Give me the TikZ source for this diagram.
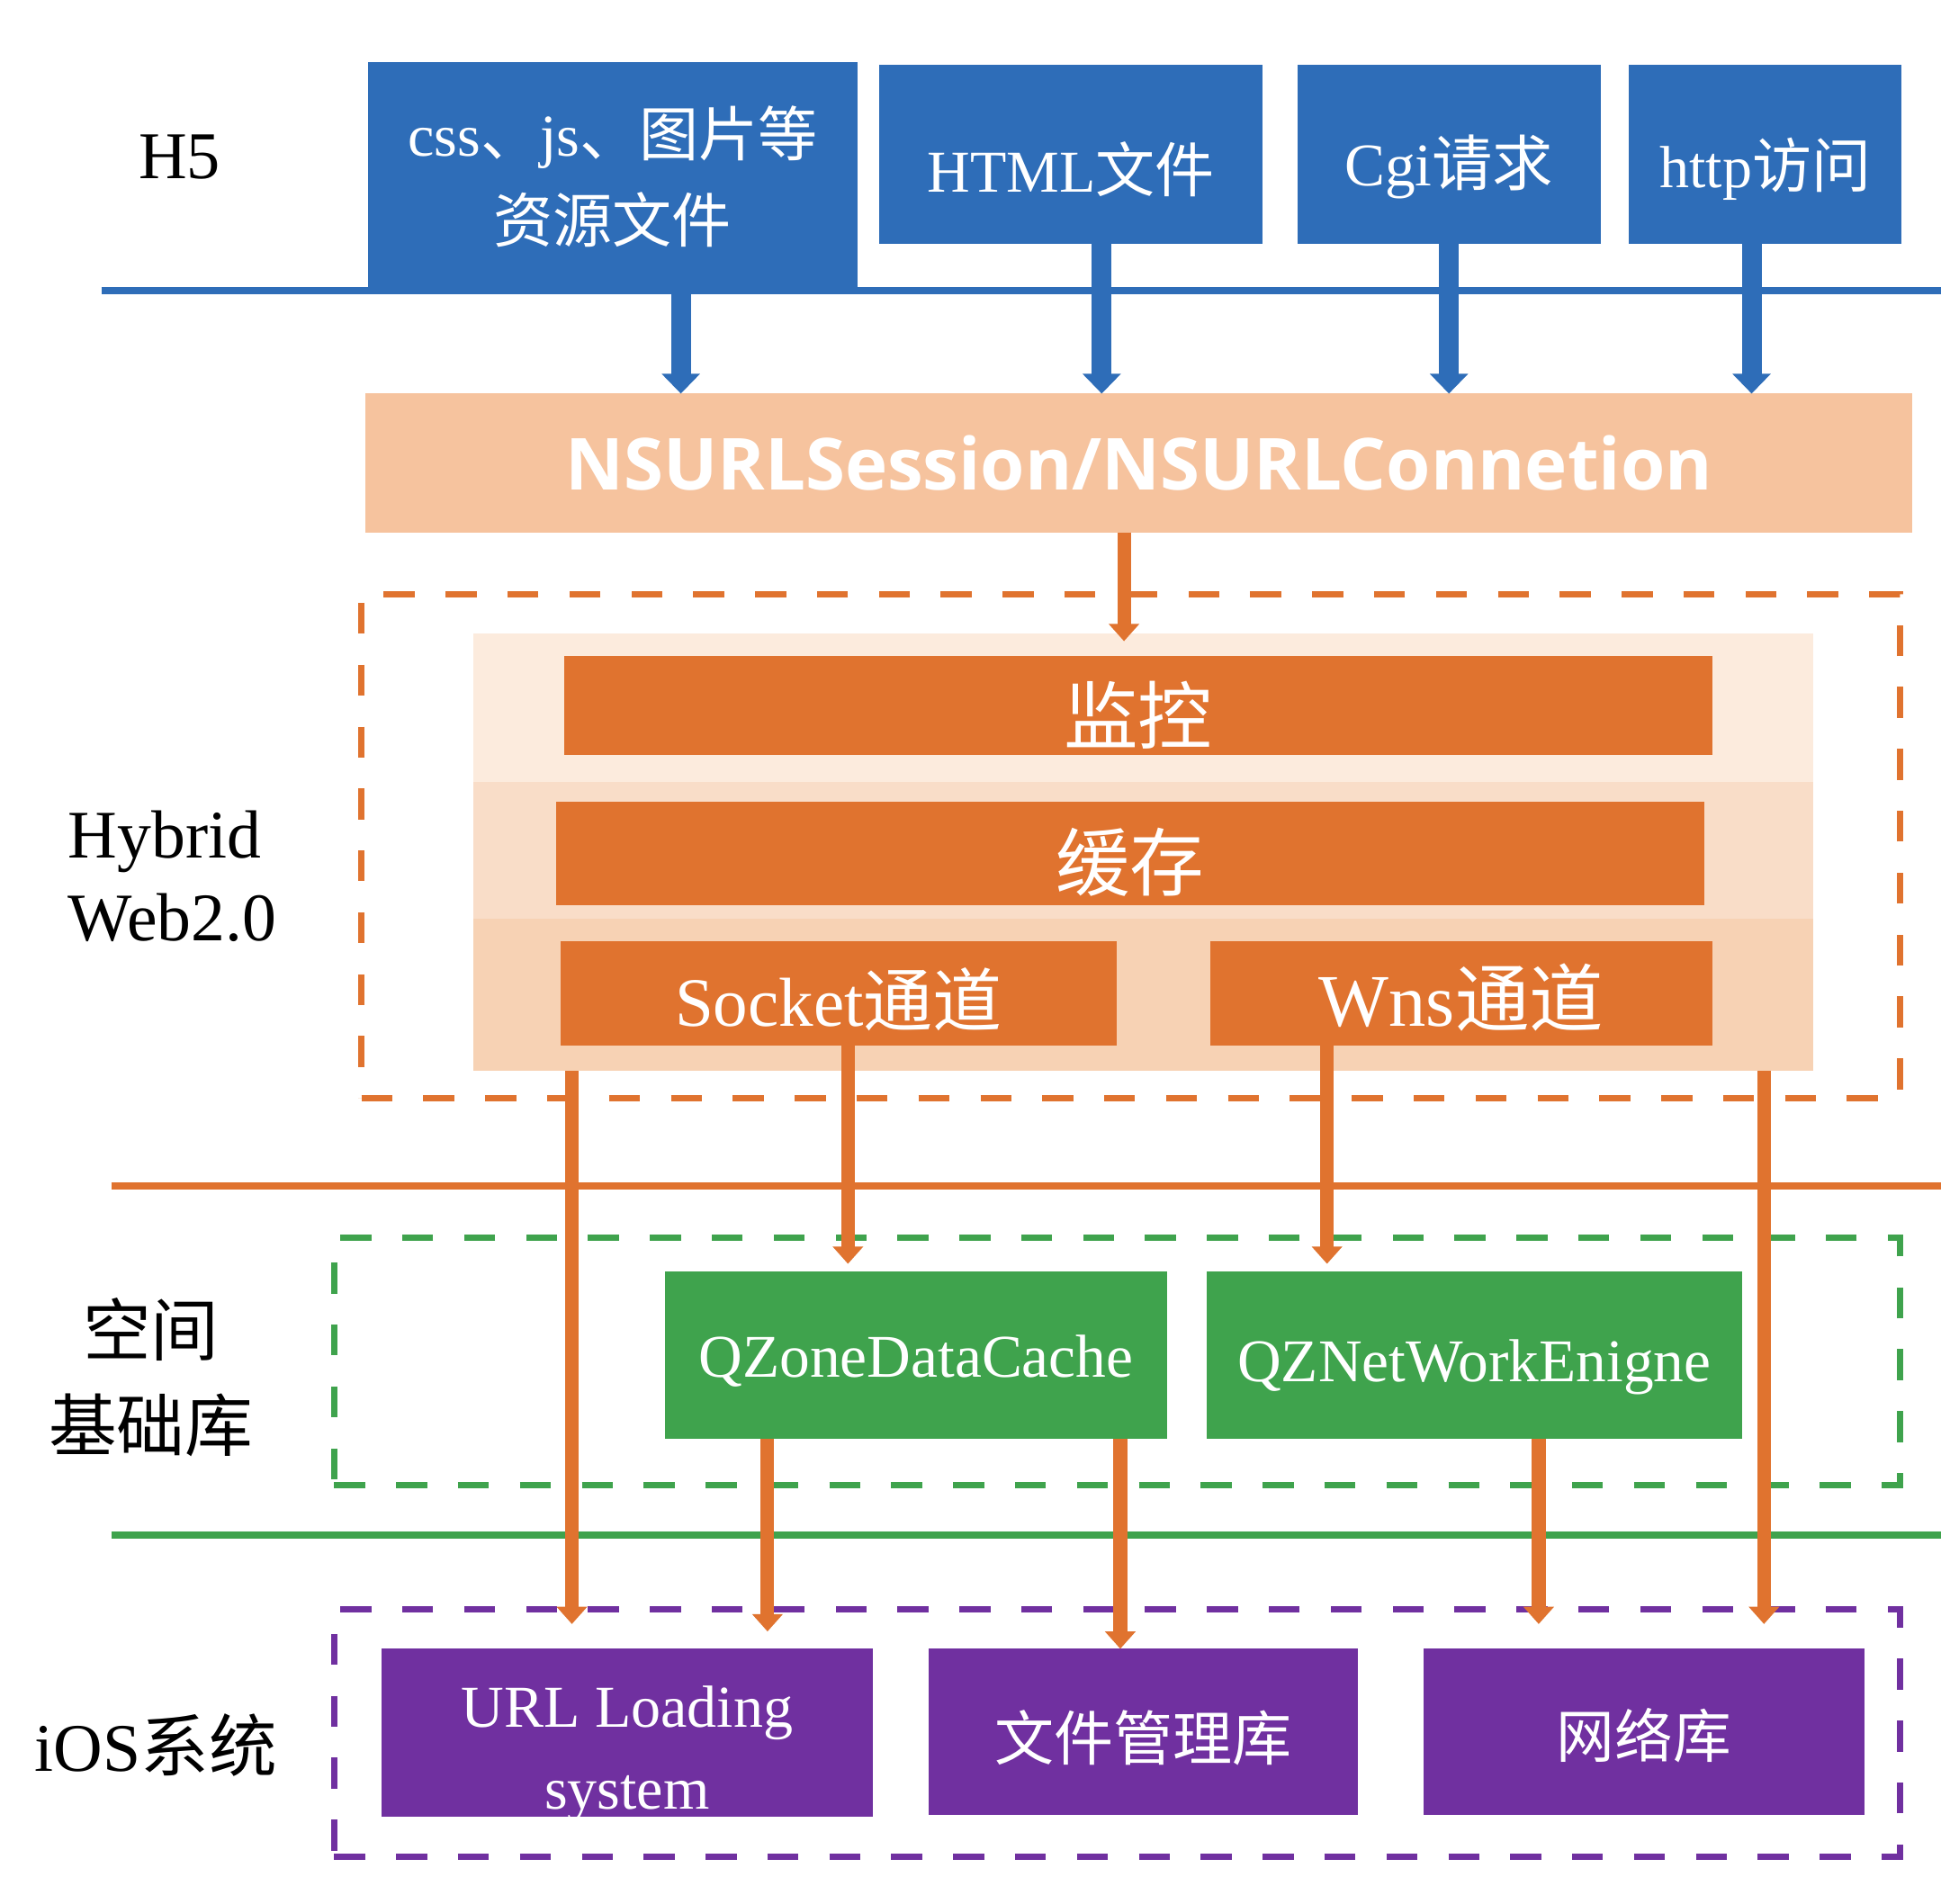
\documentclass[tikz,border=0pt]{standalone}
\usepackage{fontspec}
\setmainfont{Liberation Serif}
\newfontfamily\cjkf{Noto Sans CJK SC}
\newfontfamily\nsf{Open Sans}
\newcommand\zh[1]{{\cjkf #1}}
\newcommand\fs[2]{\fontsize{#1}{#2}\selectfont}
% move a line of text down without changing the box it occupies
\newcommand\dropby[2]{\raisebox{-#1}[\height][\depth]{#2}}
\usetikzlibrary{arrows.meta}
\definecolor{hblue}{HTML}{2E6DB8}
\definecolor{horange}{HTML}{E0732F}
\definecolor{nsorange}{HTML}{F6C39E}
\definecolor{bandA}{HTML}{FCEBDD}
\definecolor{bandB}{HTML}{F9DDC8}
\definecolor{bandC}{HTML}{F7D2B4}
\definecolor{hgreen}{HTML}{3FA34D}
\definecolor{hpurple}{HTML}{7030A0}
\tikzset{
  bx/.style={inner sep=0pt, outer sep=0pt, text=white, align=center},
  layerlbl/.style={inner sep=0pt, text=black, align=center},
  frame/.style={draw, line width=5pt, dash pattern=on 25pt off 25pt, inner sep=0pt, outer sep=0pt},
  barrow/.style={draw=hblue, line width=16pt, -{Triangle[width=30pt,length=16pt]}},
  oarrow/.style={draw=horange, line width=11pt, -{Triangle[width=24pt,length=14pt]}},
  sepline/.style={line width=6pt},
}
\begin{document}
\begin{tikzpicture}[x=1pt,y=-1pt]
\useasboundingbox[fill=white] (0,0) rectangle (1568,1537.5);

% ---------- H5 layer ----------
\node[layerlbl, font=\fs{54}{60}] (lh5) at (145,127) {H5};
\draw[hblue, sepline] (82,235) -- (1568,235);
\node[bx, fill=hblue, minimum width=396pt, minimum height=185pt, font=\fs{48}{70}] (b1) at (495,142.5)
  {css\zh{、}js\zh{、图片等}\\\zh{资源文件}};
\node[bx, fill=hblue, minimum width=310pt, minimum height=145pt, font=\fs{48}{60}] (b2) at (865,124.5)
  {\dropby{12pt}{HTML\zh{文件}}};
\node[bx, fill=hblue, minimum width=245pt, minimum height=145pt, font=\fs{49}{60}] (b3) at (1170.5,124.5)
  {\dropby{10pt}{Cgi\zh{请求}}};
\node[bx, fill=hblue, minimum width=220pt, minimum height=145pt, font=\fs{48}{60}] (b4) at (1426,124.5)
  {\dropby{12pt}{http\zh{访问}}};

% ---------- NSURL layer ----------
\node[bx, fill=nsorange, minimum width=1250pt, minimum height=112pt, font=\nsf\bfseries\fs{58}{60}] (ns) at (920,374)
  {NSURLSession/NSURLConnetion};

% ---------- Hybrid layer ----------
\node[frame, draw=horange, minimum width=1243pt, minimum height=407pt] (hy) at (913.5,683.5) {};
\node[inner sep=0pt, fill=bandA, minimum width=1083pt, minimum height=120pt] (bandtop) at (923.5,572) {};
\node[inner sep=0pt, fill=bandB, minimum width=1083pt, minimum height=110pt] (bandmid) at (923.5,687) {};
\node[inner sep=0pt, fill=bandC, minimum width=1083pt, minimum height=123pt] (bandbot) at (923.5,803.5) {};
\node[bx, fill=horange, minimum width=927pt, minimum height=80pt, font=\fs{60}{60}] (jk) at (919.5,570) {\dropby{8pt}{\zh{监控}}};
\node[bx, fill=horange, minimum width=928pt, minimum height=83pt, font=\fs{60}{60}] (hc) at (913,689.5) {\dropby{7pt}{\zh{缓存}}};
\node[bx, fill=horange, minimum width=449pt, minimum height=85pt, font=\fs{56}{60}] (sk) at (677.5,802.5) {\dropby{5pt}{Socket\zh{通道}}};
\node[bx, fill=horange, minimum width=405pt, minimum height=85pt, font=\fs{60}{60}] (wn) at (1180.5,802.5) {\dropby{3pt}{Wns\zh{通道}}};
\node[layerlbl, anchor=west, align=left, font=\fs{55}{67}] (lhy) at (55,708) {Hybrid\\Web2.0};
\draw[horange, sepline] (90,958) -- (1568,958);

% ---------- Qzone base library layer ----------
\node[frame, draw=hgreen, minimum width=1265pt, minimum height=200pt] (gr) at (902.5,1100) {};
\node[bx, fill=hgreen, minimum width=406pt, minimum height=135pt, font=\fs{49}{60}] (qz) at (740,1094.5) {\dropby{5pt}{QZoneDataCache}};
\node[bx, fill=hgreen, minimum width=432pt, minimum height=135pt, font=\fs{49}{60}] (qn) at (1191,1094.5) {\dropby{10pt}{QZNetWorkEnigne}};
\node[layerlbl, font=\fs{55}{77}] (lqz) at (122,1113) {\zh{空间}\\\zh{基础库}};
\draw[hgreen, sepline] (90,1240) -- (1568,1240);

% ---------- iOS layer ----------
\node[frame, draw=hpurple, minimum width=1265pt, minimum height=200pt] (pu) at (902.5,1400) {};
\node[bx, fill=hpurple, minimum width=397pt, minimum height=136pt, font=\fs{48}{66}] (url) at (506.5,1400)
  {\dropby{17pt}{URL Loading}\\\dropby{17pt}{system}};
\node[bx, fill=hpurple, minimum width=347pt, minimum height=134pt, font=\fs{48}{60}] (fm) at (923.5,1399) {\dropby{5pt}{\zh{文件管理库}}};
\node[bx, fill=hpurple, minimum width=356pt, minimum height=134pt, font=\fs{47}{60}] (net) at (1328,1399) {\dropby{3pt}{\zh{网络库}}};
\node[layerlbl, font=\fs{55}{60}] (lios) at (126,1410) {iOS\zh{系统}};

% ---------- connectors ----------
\draw[barrow] ([xshift=55pt]b1.south) -- ([xshift=55pt]b1.south |- ns.north);
\draw[barrow] ([xshift=25pt]b2.south) -- ([xshift=25pt]b2.south |- ns.north);
\draw[barrow] ([xshift=0pt]b3.south) -- ([xshift=0pt]b3.south |- ns.north);
\draw[barrow] ([xshift=-11pt]b4.south) -- ([xshift=-11pt]b4.south |- ns.north);

\draw[oarrow, shorten >=12pt] ([xshift=-12pt]ns.south) -- ([xshift=-12pt]ns.south |- jk.north);

\draw[oarrow, shorten >=20pt] ([xshift=-461.5pt]bandbot.south) -- ([xshift=-461.5pt]bandbot.south |- url.north);
\draw[oarrow, shorten >=6pt] ([xshift=7.5pt]sk.south) -- ([xshift=7.5pt]sk.south |- qz.north);
\draw[oarrow, shorten >=6pt] ([xshift=-108.5pt]wn.south) -- ([xshift=-108.5pt]wn.south |- qn.north);
\draw[oarrow, shorten >=20pt] ([xshift=501.5pt]bandbot.south) -- ([xshift=501.5pt]bandbot.south |- net.north);

\draw[oarrow, shorten >=14pt] ([xshift=-120pt]qz.south) -- ([xshift=-120pt]qz.south |- url.north);
\draw[oarrow] ([xshift=165pt]qz.south) -- ([xshift=165pt]qz.south |- fm.north);
\draw[oarrow, shorten >=20pt] ([xshift=52pt]qn.south) -- ([xshift=52pt]qn.south |- net.north);
\end{tikzpicture}
\end{document}
